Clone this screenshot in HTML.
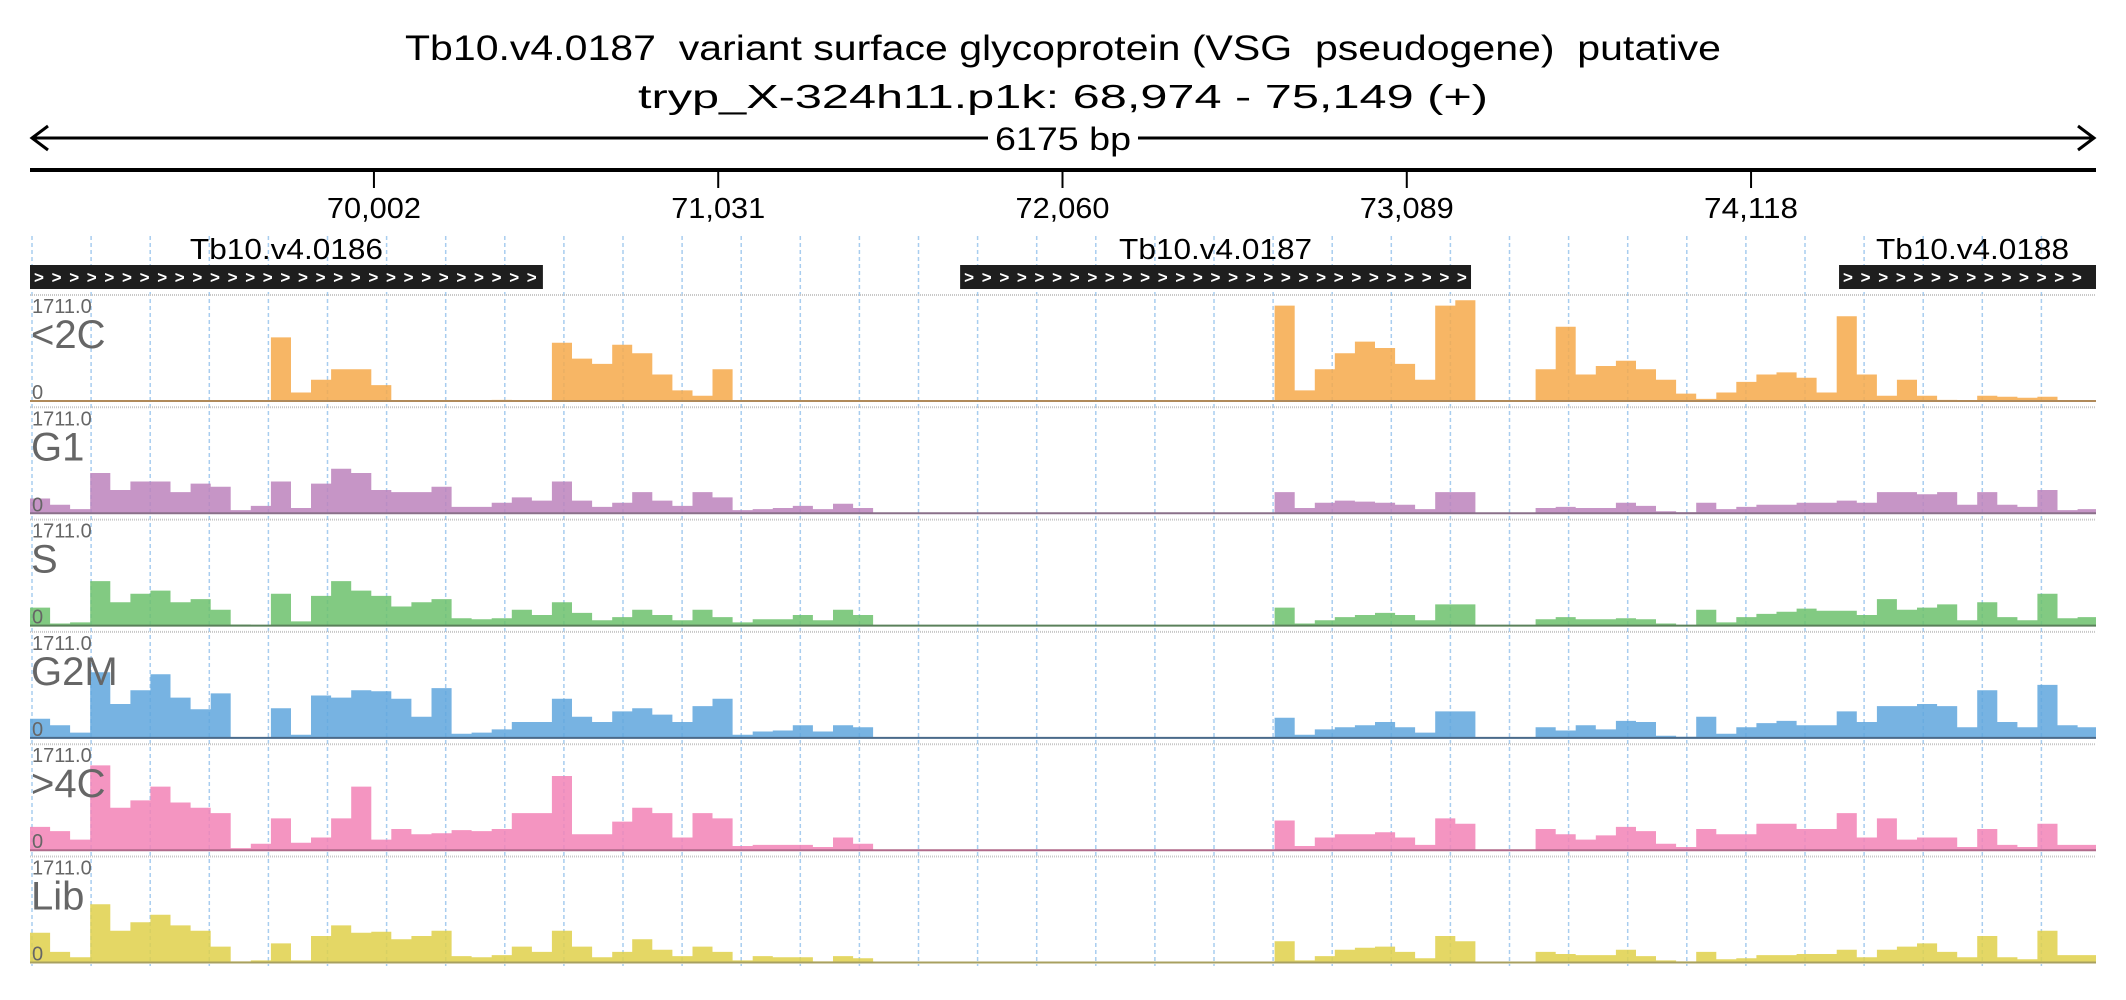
<!DOCTYPE html>
<html><head><meta charset="utf-8"><title>Tb10.v4.0187 coverage</title>
<style>
html,body{margin:0;padding:0;background:#fff;}
svg{display:block;font-family:"Liberation Sans",sans-serif;}
</style></head>
<body>
<svg id="chart" width="2126" height="1000" viewBox="0 0 2126 1000" xmlns="http://www.w3.org/2000/svg">
<text x="1063" y="60" text-anchor="middle" font-size="35" fill="#000" textLength="1316" lengthAdjust="spacingAndGlyphs" xml:space="preserve">Tb10.v4.0187  variant surface glycoprotein (VSG  pseudogene)  putative</text>
<text x="1063" y="108" text-anchor="middle" font-size="33" fill="#000" textLength="850" lengthAdjust="spacingAndGlyphs">tryp_X-324h11.p1k: 68,974 - 75,149 (+)</text>
<g id="ruler"></g>
<g id="grid"></g>
<g id="genes"></g>
<g id="tracks"></g>
</svg>
<script>
const startBp = 68974;
const endBp = 75149;
const tickValues = [70002, 71031, 72060, 73089, 74118];
const tickLabels = ["70,002", "71,031", "72,060", "73,089", "74,118"];
const geneNames = ["Tb10.v4.0186", "Tb10.v4.0187", "Tb10.v4.0188"];
const geneStarts = [68974, 71754, 74381];
const geneEnds = [70507, 73281, 75149];
const trackNames = ["<2C", "G1", "S", "G2M", ">4C", "Lib"];
const trackMax = 1711.0;
const binBp = 60;
const cov2C = [0,0,0,0,0,0,0,0,0,0,0,0,0.6,0.08,0.2,0.3,0.3,0.15,0,0,0,0,0,0.01,0,0,0.55,0.4,0.35,0.53,0.45,0.25,0.1,0.05,0.3,0,0,0,0,0,0,0,0,0,0,0,0,0,0,0,0,0,0,0,0,0,0,0,0,0,0,0,0.9,0.1,0.3,0.45,0.56,0.5,0.35,0.2,0.9,0.95,0,0,0,0.3,0.7,0.25,0.33,0.38,0.3,0.2,0.07,0.02,0.08,0.18,0.25,0.27,0.22,0.08,0.8,0.25,0.05,0.2,0.05,0.01,0,0.05,0.04,0.03,0.04,0,0];
const covG1 = [0.14,0.08,0.04,0.38,0.22,0.3,0.3,0.2,0.28,0.25,0.03,0.07,0.3,0.05,0.28,0.42,0.38,0.22,0.2,0.2,0.25,0.06,0.06,0.1,0.15,0.12,0.3,0.12,0.06,0.1,0.2,0.12,0.07,0.2,0.15,0.03,0.04,0.05,0.07,0.04,0.09,0.05,0,0,0,0,0,0,0,0,0,0,0,0,0,0,0,0,0,0,0,0,0.2,0.05,0.1,0.12,0.11,0.1,0.08,0.04,0.2,0.2,0,0,0,0.05,0.06,0.05,0.05,0.1,0.07,0.02,0.01,0.1,0.04,0.06,0.08,0.08,0.1,0.1,0.12,0.1,0.2,0.2,0.18,0.2,0.08,0.2,0.08,0.06,0.22,0.03,0.04];
const covS = [0.17,0.02,0.03,0.42,0.22,0.3,0.33,0.22,0.25,0.15,0.01,0,0.3,0.04,0.28,0.42,0.33,0.28,0.18,0.22,0.25,0.07,0.06,0.07,0.15,0.1,0.22,0.12,0.05,0.08,0.15,0.1,0.05,0.15,0.08,0.03,0.06,0.06,0.1,0.05,0.15,0.1,0,0,0,0,0,0,0,0,0,0,0,0,0,0,0,0,0,0,0,0,0.17,0.02,0.05,0.08,0.1,0.12,0.1,0.05,0.2,0.2,0,0,0,0.06,0.08,0.06,0.06,0.07,0.06,0.02,0,0.15,0.03,0.08,0.11,0.13,0.16,0.14,0.14,0.1,0.25,0.15,0.17,0.2,0.05,0.22,0.08,0.05,0.3,0.07,0.08];
const covG2M = [0.18,0.12,0.05,0.62,0.32,0.45,0.6,0.38,0.27,0.42,0,0,0.28,0.03,0.4,0.38,0.45,0.44,0.37,0.2,0.47,0.04,0.05,0.08,0.15,0.15,0.37,0.2,0.15,0.25,0.28,0.22,0.15,0.3,0.37,0.03,0.06,0.07,0.12,0.06,0.12,0.1,0,0,0,0,0,0,0,0,0,0,0,0,0,0,0,0,0,0,0,0,0.19,0.03,0.08,0.1,0.12,0.15,0.1,0.05,0.25,0.25,0,0,0,0.1,0.07,0.12,0.08,0.16,0.15,0.02,0.01,0.2,0.04,0.1,0.14,0.16,0.12,0.12,0.25,0.15,0.3,0.3,0.32,0.3,0.1,0.45,0.15,0.1,0.5,0.12,0.1];
const cov4C = [0.22,0.18,0.1,0.8,0.4,0.47,0.6,0.45,0.4,0.35,0.02,0.06,0.3,0.07,0.12,0.3,0.6,0.1,0.2,0.15,0.16,0.19,0.18,0.2,0.35,0.35,0.7,0.15,0.15,0.27,0.4,0.35,0.12,0.35,0.3,0.04,0.05,0.05,0.05,0.03,0.12,0.06,0,0,0,0,0,0,0,0,0,0,0,0,0,0,0,0,0,0,0,0,0.28,0.04,0.12,0.15,0.15,0.17,0.12,0.05,0.3,0.25,0,0,0,0.2,0.15,0.1,0.14,0.22,0.18,0.06,0.03,0.2,0.15,0.15,0.25,0.25,0.2,0.2,0.35,0.12,0.3,0.1,0.12,0.12,0.03,0.2,0.05,0.03,0.25,0.05,0.05];
const covLib = [0.28,0.1,0.05,0.55,0.3,0.38,0.45,0.35,0.3,0.15,0.01,0.02,0.18,0.02,0.25,0.35,0.28,0.29,0.22,0.25,0.3,0.06,0.05,0.07,0.15,0.1,0.3,0.15,0.05,0.1,0.22,0.12,0.06,0.15,0.1,0.02,0.06,0.05,0.05,0.01,0.06,0.04,0,0,0,0,0,0,0,0,0,0,0,0,0,0,0,0,0,0,0,0,0.2,0.02,0.06,0.12,0.14,0.15,0.1,0.04,0.25,0.2,0,0,0,0.1,0.08,0.07,0.07,0.12,0.06,0.02,0.01,0.1,0.03,0.04,0.07,0.07,0.08,0.08,0.12,0.05,0.12,0.15,0.18,0.1,0.05,0.25,0.05,0.03,0.3,0.07,0.07];
const trackFills = ["#f6a94a", "#bc82bc", "#6cc16c", "#5fa6dd", "#f283b6", "#dfd04a"];
const trackLines = ["#b08a5a", "#8a708a", "#5a805a", "#4a6a8a", "#b06a8a", "#a8a060"];

const NS = "http://www.w3.org/2000/svg";
const X0 = 30, X1 = 2096;
function xScale(bp){ return X0 + (bp - startBp) / (endBp - startBp) * (X1 - X0); }
function mk(tag, attrs, parent){ const e = document.createElementNS(NS, tag); for (const k in attrs) e.setAttribute(k, attrs[k]); parent.appendChild(e); return e; }

// ruler
const ruler = document.getElementById('ruler');
let e = mk('line', {x1: X0+4, y1: 138, x2: X1-4, y2: 138, stroke: '#000', 'stroke-width': 3}, ruler);


e = mk('path', {d: `M${X0+18},126 L${X0+2},138 L${X0+18},150`, fill: 'none', stroke: '#000', 'stroke-width': 3}, ruler);


e = mk('path', {d: `M${X1-18},126 L${X1-2},138 L${X1-18},150`, fill: 'none', stroke: '#000', 'stroke-width': 3}, ruler);


mk('rect', {x: 988, y: 122, width: 150, height: 34, fill: '#fff'}, ruler);
e = mk('text', {x: 1063, y: 150, 'text-anchor': 'middle', 'font-size': 32, textLength: 136, lengthAdjust: 'spacingAndGlyphs'}, ruler);
e.textContent = (endBp - startBp) + ' bp';


e = mk('line', {x1: X0, y1: 170, x2: X1, y2: 170, stroke: '#000', 'stroke-width': 4}, ruler);


tickValues.forEach((v, i) => {
  const x = xScale(v);
  const t = mk('line', {x1: x, y1: 170, x2: x, y2: 188, stroke: '#000', 'stroke-width': 2}, ruler);
  
  
  const l = mk('text', {x: x, y: 218, 'text-anchor': 'middle', 'font-size': 29, textLength: 94, lengthAdjust: 'spacingAndGlyphs'}, ruler);
  l.textContent = tickLabels[i];
  
  
});

// grid
const grid = document.getElementById('grid');
for (let gx = 32; gx <= X1 + 2; gx += 59.1) {
  const g = mk('line', {x1: gx, y1: 236, x2: gx, y2: 966, stroke: '#a8cdef', 'stroke-width': 1.5, 'stroke-dasharray': '4,3'}, grid);
  
  
}

// genes
const genes = document.getElementById('genes');
geneNames.forEach((n, i) => {
  const x1 = xScale(geneStarts[i]), x2 = xScale(geneEnds[i]);
  const r = mk('rect', {x: x1, y: 265, width: x2 - x1, height: 24, fill: '#1e1e1e'}, genes);
  
  
  const cg = mk('g', {fill: '#fff', 'font-size': 17, 'font-weight': 'bold'}, genes);
  
  
  for (let cx = x1 + 4; cx < x2 - 8; cx += 17.6) {
    const c = mk('text', {x: cx, y: 283}, cg);
    c.textContent = '>';
  }
  const lb = mk('text', {x: i === 2 ? (x1 + x2) / 2 + 5 : (x1 + x2) / 2, y: 259, 'text-anchor': 'middle', 'font-size': 29, textLength: 193, lengthAdjust: 'spacingAndGlyphs'}, genes);
  lb.textContent = n;
  
  
});

// tracks
const tracksG = document.getElementById('tracks');
const allCov = [cov2C, covG1, covS, covG2M, cov4C, covLib];
const T0 = 295, TSTEP = 112.3, TH = 106;
trackNames.forEach((name, ti) => {
  const top = T0 + ti * TSTEP, base = top + TH;
  const g = mk('g', {}, tracksG);
  
  
  const tl = mk('line', {x1: X0, y1: top, x2: X1, y2: top, stroke: '#c8c8c8', 'stroke-width': 2, 'stroke-dasharray': '1,1'}, g);
  
  
  const yScale = v => base - v / trackMax * TH;
  const data = allCov[ti];
  let d = `M${X0},${base}`;
  data.forEach((v, i) => {
    const xa = xScale(startBp + i * binBp), xb = xScale(Math.min(endBp, startBp + (i + 1) * binBp));
    const y = yScale(v * trackMax);
    d += ` L${xa.toFixed(1)},${y.toFixed(1)} L${xb.toFixed(1)},${y.toFixed(1)}`;
  });
  d += ` L${X1},${base} Z`;
  const area = mk('path', {d: d, fill: trackFills[ti], 'fill-opacity': 0.85}, g);
  
  
  const bl = mk('line', {x1: X0, y1: base, x2: X1, y2: base, stroke: trackLines[ti], 'stroke-width': 2}, g);
  
  
  const mx = mk('text', {x: 32, y: top + 18, 'font-size': 20, fill: '#666'}, g);
  mx.textContent = trackMax.toFixed(1);
  
  
  const nm = mk('text', {x: 31, y: top + 53, 'font-size': 40, fill: '#666'}, g);
  nm.textContent = name;
  
  
  const z = mk('text', {x: 32, y: top + 104, 'font-size': 20, fill: '#666'}, g);
  z.textContent = '0';
  
  
});
</script>
</body></html>
